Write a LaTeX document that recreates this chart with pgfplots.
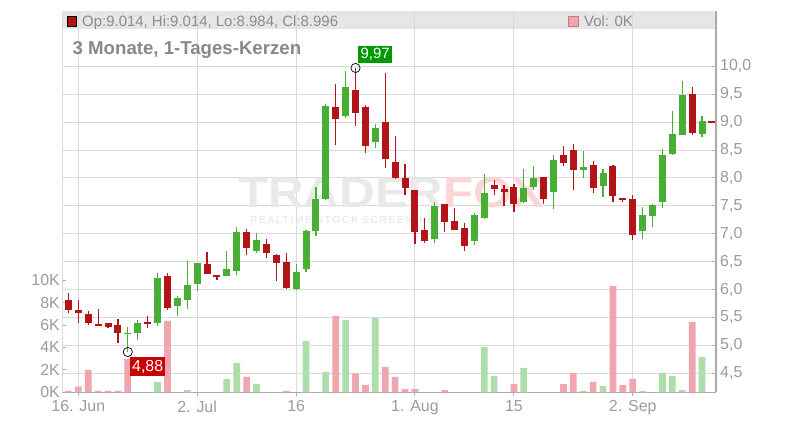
\documentclass[border=0pt]{standalone}
\usepackage{pgfplots}
\pgfplotsset{compat=1.18}
\usepackage{pgfplotstable}
\usepackage{fontspec}
\setmainfont{Liberation Sans}
\definecolor{cgreen}{RGB}{72,174,52}
\definecolor{cred}{RGB}{178,20,24}
\definecolor{vgreen}{RGB}{172,221,170}
\definecolor{vred}{RGB}{239,166,174}
\definecolor{gridc}{RGB}{218,218,218}
\definecolor{axc}{RGB}{170,170,170}
\definecolor{tickc}{RGB}{155,155,155}
\definecolor{titlec}{RGB}{136,136,136}
\definecolor{bandc}{RGB}{230,230,230}

% up (green) candles: index, open, high, low, close
\pgfplotstableread{
i o h l c
6 5.21 5.33 4.88 5.22
7 5.226 5.454 5.095 5.400
9 5.400 6.296 5.352 6.206
11 5.710 5.883 5.525 5.848
12 5.818 6.511 5.645 6.081
13 6.105 6.475 5.979 6.475
16 6.248 6.690 6.240 6.367
17 6.337 7.120 6.266 7.030
19 6.696 7.013 6.660 6.887
23 6.015 6.457 6.000 6.314
24 6.367 7.066 6.320 7.048
25 7.050 7.837 6.965 7.622
26 7.622 9.330 7.604 9.295
28 9.109 9.916 9.079 9.629
31 8.637 8.966 8.542 8.894
37 6.911 7.568 6.839 7.496
41 6.875 7.365 6.803 7.335
42 7.281 8.070 7.263 7.729
46 7.574 8.159 7.556 7.819
47 7.843 8.213 7.777 7.998
49 7.753 8.410 7.449 8.321
52 8.148 8.482 8.004 8.195
54 7.861 8.160 7.664 8.088
58 7.054 7.479 6.911 7.335
59 7.323 7.532 7.126 7.514
60 7.574 8.518 7.467 8.410
61 8.434 9.199 8.416 8.787
62 8.775 9.737 8.770 9.486
64 8.793 9.109 8.739 9.020
}\upc

% down (red) candles
\pgfplotstableread{
i o h l c
0 5.818 5.937 5.579 5.639
1 5.633 5.812 5.406 5.585
2 5.561 5.615 5.370 5.406
3 5.382 5.651 5.345 5.352
4 5.400 5.400 5.310 5.334
5 5.364 5.471 5.047 5.226
8 5.406 5.525 5.304 5.390
10 6.242 6.296 5.639 5.674
14 6.457 6.672 6.284 6.284
15 6.260 6.260 6.176 6.230
18 7.030 7.084 6.624 6.750
20 6.815 6.905 6.570 6.660
21 6.618 6.636 6.158 6.481
22 6.493 6.654 6.015 6.033
27 9.271 9.689 8.596 9.062
29 9.575 9.970 8.936 9.169
30 9.271 9.306 8.452 8.578
32 9.002 9.880 8.183 8.345
33 8.285 8.751 7.975 8.004
34 7.998 8.249 7.700 7.825
35 7.783 7.783 6.821 7.036
36 7.066 7.275 6.840 6.869
38 7.532 7.532 7.036 7.216
39 7.228 7.461 7.072 7.072
40 7.102 7.186 6.696 6.786
43 7.873 7.962 7.694 7.807
44 7.801 7.873 7.496 7.747
45 7.837 7.885 7.395 7.538
48 8.016 8.016 7.538 7.628
50 8.410 8.572 8.219 8.273
51 8.500 8.608 7.789 8.148
53 8.231 8.303 7.735 7.825
55 8.213 8.231 7.574 7.682
56 7.640 7.640 7.574 7.610
57 7.622 7.694 6.893 6.983
63 9.504 9.629 8.775 8.811
65 9.014 9.014 8.984 8.996
}\downc

% volumes in K
\pgfplotstableread{
i v
0 0.12
1 0.5
2 2.0
3 0.12
4 0.12
5 0.12
6 2.97
10 6.37
18 1.37
22 0.12
27 6.81
29 1.66
30 0.65
32 2.26
33 1.37
34 0.29
35 0.29
38 0.2
45 0.74
50 0.74
51 1.72
53 0.92
55 9.49
56 0.65
57 1.19
63 6.28
}\volred

\pgfplotstableread{
i v
9 0.92
12 0.2
16 1.19
17 2.62
19 0.74
24 4.58
26 1.81
28 6.46
31 6.66
42 4.04
43 1.46
46 2.17
52 0.12
54 0.56
58 0.12
60 1.72
61 1.46
62 0.2
64 3.15
}\volgreen

\pgfplotsset{
  geom/.style={at={(62bp,27.7bp)}, anchor=south west, scale only axis,
    width=654bp, height=381.3bp, xmin=-0.646, xmax=65.41},
  tickfont/.style={font=\fontsize{16}{18}\selectfont},
  candle/.style 2 args={only marks, mark=*, mark size=0pt, mark options={draw=none, fill=none},
    error bars/.cd, y dir=both, y explicit, error mark=none,
    error bar style={draw=#1, line width=#2}},
}

\begin{document}
\begin{tikzpicture}[x=1bp,y=1bp]
\path[use as bounding box] (0,0) rectangle (800,420);
% legend band
\fill[bandc] (62,390.5) rectangle (716,408.5);

% grid / price axis
\begin{axis}[geom, ymin=4.158, ymax=10.991,
  axis x line*=bottom, axis y line*=right,
  axis line style={axc, line width=1.3bp},
  xtick={1,13,23,35,45,57},
  xticklabels={16. Jun,2. Jul,16,1. Aug,15,2. Sep},
  ytick={4.5,5,5.5,6,6.5,7,7.5,8,8.5,9,9.5,10},
  yticklabel={\pgfmathprintnumber[fixed,fixed zerofill,precision=1,use comma,assume math mode=true]{\tick}},
  grid=major, major grid style={gridc, line width=1bp},
  tick align=inside, major tick length=4bp,
  tick style={axc, line width=1bp},
  xtick style={axc, line width=1bp, yshift=-4bp},
  ticklabel style={text=tickc, tickfont},
  yticklabel style={anchor=west, inner sep=0pt, xshift=4bp},
  xticklabel style={anchor=north, inner sep=0pt, yshift=-8bp},
]
\addplot[draw=none] coordinates {(0,5)};
\end{axis}

% watermark
\node[anchor=base west, inner sep=0pt, xscale=1.15, text={rgb,255:red,233;green,233;blue,233},
  font=\fontsize{43}{43}\bfseries\selectfont] at (238,213) {TRADER\textcolor[RGB]{250,214,214}{FOX}};
\node[anchor=base west, inner sep=0pt, text={rgb,255:red,226;green,226;blue,226},
  font=\fontsize{10}{10}\selectfont\addfontfeatures{LetterSpace=18}] at (250,197) {REALTIME STOCK SCREENING};

% volume axis
\begin{axis}[geom, ymin=0, ymax=34.04,
  axis x line=none, axis y line*=left,
  axis line style={gridc, line width=1bp},
  ytick={0,2,4,6,8,10}, yticklabels={0K,2K,4K,6K,8K,10K},
  tick align=inside, major tick length=4bp,
  tick style={axc, line width=1bp},
  yticklabel style={text=tickc, tickfont, anchor=east, inner sep=0pt, xshift=-2bp},
]
\addplot[ybar, bar width=6.7bp, bar shift=0pt, fill=vred, draw=none] table[x=i,y=v] {\volred};
\addplot[ybar, bar width=6.7bp, bar shift=0pt, fill=vgreen, draw=none] table[x=i,y=v] {\volgreen};
\end{axis}

% candle axis
\begin{axis}[geom, ymin=4.158, ymax=10.991, hide axis]
% wicks
\addplot[candle={cgreen}{1.2bp}]
  table[x=i, y expr={(\thisrow{h}+\thisrow{l})/2}, y error expr={(\thisrow{h}-\thisrow{l})/2}] {\upc};
\addplot[candle={cred}{1.2bp}]
  table[x=i, y expr={(\thisrow{h}+\thisrow{l})/2}, y error expr={(\thisrow{h}-\thisrow{l})/2}] {\downc};
% bodies
\addplot[candle={cgreen}{7bp}]
  table[x=i, y expr={(\thisrow{o}+\thisrow{c})/2}, y error expr={max(abs(\thisrow{c}-\thisrow{o})/2,0.012)}] {\upc};
\addplot[candle={cred}{7bp}]
  table[x=i, y expr={(\thisrow{o}+\thisrow{c})/2}, y error expr={max(abs(\thisrow{c}-\thisrow{o})/2,0.012)}] {\downc};
% high / low markers
\addplot[only marks, mark=o, mark size=4.6bp, black, line width=0.7bp] coordinates {(29,9.97) (6,4.88)};
\node[anchor=south west, fill={rgb,255:red,0;green,153;blue,0}, text=white, inner sep=0pt,
  minimum width=34bp, minimum height=17bp, font=\fontsize{15}{15}\selectfont]
  at (axis cs:29.25,10.06) {9,97};
\node[anchor=north west, fill={rgb,255:red,204;green,0;blue,0}, text=white, inner sep=0pt,
  minimum width=35bp, minimum height=19bp, font=\fontsize{16}{16}\selectfont]
  at (axis cs:6.22,4.79) {4,88};
\end{axis}

% legend texts and title
\filldraw[fill=cred, draw=black, line width=0.8bp] (67.3,393.3) rectangle (76.7,404);
\node[anchor=base west, inner sep=0pt, text={rgb,255:red,140;green,140;blue,140},
  font=\fontsize{15}{15}\selectfont] at (82,393.6) {Op:9.014, Hi:9.014, Lo:8.984, Cl:8.996};
\filldraw[fill=vred, draw={rgb,255:red,200;green,120;blue,130}, line width=0.8bp] (568,393.3) rectangle (578,404);
\node[anchor=base west, inner sep=0pt, text={rgb,255:red,140;green,140;blue,140},
  font=\fontsize{15}{15}\selectfont] at (584,393.6) {Vol: 0K};
\node[anchor=base west, inner sep=0pt, text=titlec,
  font=\fontsize{18.7}{19}\bfseries\selectfont] at (72.5,366) {3 Monate, 1-Tages-Kerzen};
\end{tikzpicture}
\end{document}
